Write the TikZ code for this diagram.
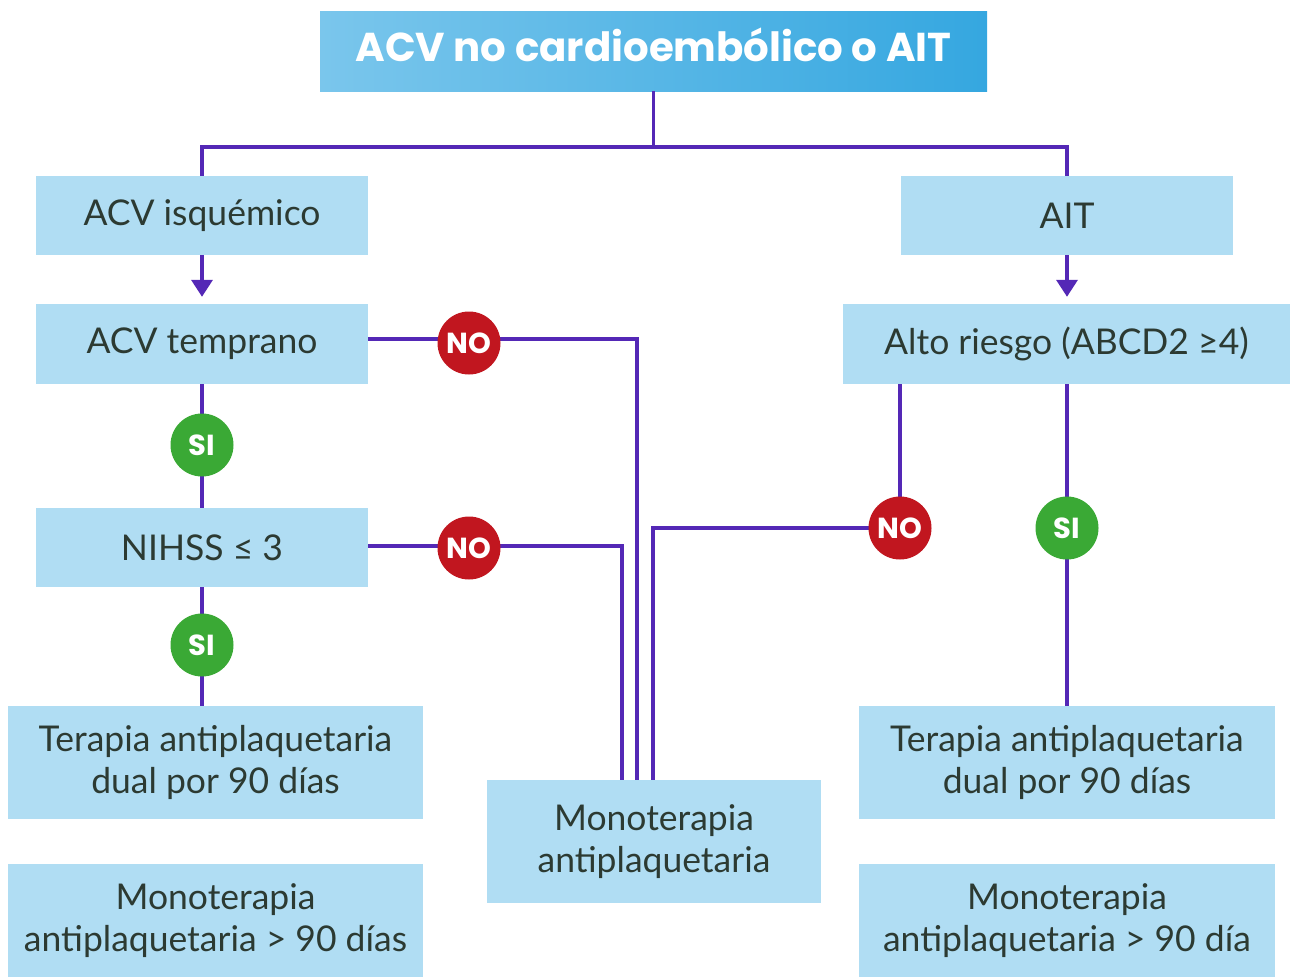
\documentclass[tikz,border=0pt]{standalone}
\usepackage{fontspec}
\setmainfont{Lato}
\newfontfamily\titlefont{Poppins}[UprightFont=*-Bold]
\usetikzlibrary{arrows.meta}
\definecolor{boxblue}{HTML}{B0DDF3}
\definecolor{titleL}{HTML}{7AC6EC}
\definecolor{titleR}{HTML}{35A7E0}
\definecolor{linepurple}{HTML}{5428B6}
\definecolor{txt}{HTML}{2C3A32}
\definecolor{nored}{HTML}{C1161F}
\definecolor{sigreen}{HTML}{3AA935}
\tikzset{
  box/.style={rectangle, fill=boxblue, inner sep=0pt, text=txt, align=center,
    font=\fontsize{35.5}{42.5}\selectfont},
  conn/.style={draw=linepurple, line width=3.5pt},
  yes/.style={circle, fill=sigreen, minimum size=63pt, inner sep=0pt, text=white,
    font=\titlefont\fontsize{29}{29}\selectfont},
  no/.style={circle, fill=nored, minimum size=63pt, inner sep=0pt, text=white,
    font=\titlefont\fontsize{29}{29}\selectfont},
}
\begin{document}
\begin{tikzpicture}[x=1pt,y=-1pt]
\useasboundingbox (0,0) rectangle (1290,977);
% boxes
\node[rectangle, left color=titleL, right color=titleR, inner sep=0pt,
  minimum width=667pt, minimum height=80pt, text=white, text height=21pt, text depth=0pt,
  font=\titlefont\fontsize{40.3}{40.3}\selectfont] (title) at (653.5,51) {ACV no cardioembólico o AIT};
\node[box, minimum width=332pt, minimum height=79pt] (isq) at (202,215.5) {ACV isquémico};
\node[box, minimum width=332pt, minimum height=79pt] (ait) at (1067,215.5) {AIT};
\node[box, minimum width=332pt, minimum height=80pt] (temp) at (202,344) {ACV temprano};
\node[box, minimum width=447pt, minimum height=80pt] (alto) at (1066.5,344) {Alto riesgo (ABCD2 ≥4)};
\node[box, minimum width=332pt, minimum height=79pt] (nihss) at (202,547.5) {NIHSS ≤ 3};
\node[box, minimum width=415pt, minimum height=113pt] (terL) at (215.5,762.5) {Terapia antiplaquetaria\\dual por 90 días};
\node[box, minimum width=415pt, minimum height=113pt] (monoL) at (215.5,920.5) {Monoterapia\\antiplaquetaria > 90 días};
\node[box, minimum width=334pt, minimum height=123pt] (monoC) at (654,841.5) {Monoterapia\\antiplaquetaria};
\node[box, minimum width=416pt, minimum height=113pt] (terR) at (1067,762.5) {Terapia antiplaquetaria\\dual por 90 días};
\node[box, minimum width=416pt, minimum height=113pt] (monoR) at (1067,920.5) {Monoterapia\\antiplaquetaria > 90 día};
% coordinates
\coordinate (m1) at ([xshift=-32pt]monoC.north);
\coordinate (m2) at ([xshift=-17pt]monoC.north);
\coordinate (m3) at ([xshift=-1pt]monoC.north);
\coordinate (a3) at ([xshift=-166.5pt]alto.south);
\coordinate (a4) at ([xshift=0.5pt]alto.south);
% connectors
\draw[conn] (title.south) -- ++(0,56) -| (isq.north);
\draw[conn] (title.south) -- ++(0,56) -| (ait.north);
\draw[conn, -{Triangle[width=21pt,length=17pt]}, shorten >=7pt] (isq.south) -- (temp.north);
\draw[conn, -{Triangle[width=21pt,length=17pt]}, shorten >=7pt] (ait.south) -- (ait.south |- alto.north);
\draw[conn] (temp.south) -- (nihss.north);
\draw[conn] (nihss.south) -- (nihss.south |- terL.north);
\draw[conn] ([yshift=5pt]temp.east) -| (m2);
\draw[conn] ([yshift=1.5pt]nihss.east) -| (m1);
\coordinate (no3c) at (900,528);
\draw[conn] (a3) -- (no3c) -| (m3);
\draw[conn] (a4) -- (a4 |- terR.north);
% decision circles
\node[yes] (si1) at (202,445) {SI};
\node[yes] (si2) at (202,645) {SI};
\node[no] (no1) at (469,343) {NO};
\node[no] (no2) at (469,548) {NO};
\node[no] (no3) at (no3c) {NO};
\node[yes] (si3) at (1067,528) {SI};
\end{tikzpicture}
\end{document}
